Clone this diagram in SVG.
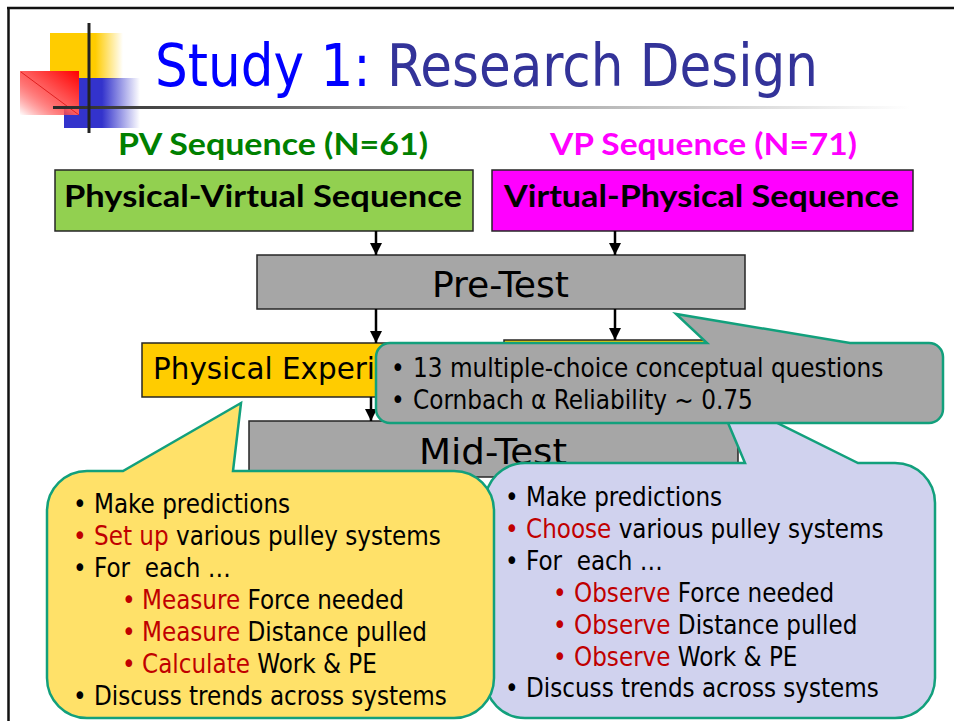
<svg xmlns="http://www.w3.org/2000/svg" width="954" height="721" viewBox="0 0 954 721">
<defs>
<style>
.body{font-family:"DejaVu Sans Condensed","Liberation Sans",sans-serif;font-stretch:condensed;fill:#000;white-space:pre}
.head{font-family:"Lato","Liberation Sans",sans-serif;font-weight:bold}
.box{stroke:#262626;stroke-width:1.5}
.gray{fill:#A6A6A6}
.call{stroke:#12A07C;stroke-width:2.5;stroke-linejoin:miter}
.red{fill:#C00000}
.conn line{stroke:#000;stroke-width:2.5}
</style>
<marker id="ah" viewBox="0 0 10 10" refX="10" refY="5" markerWidth="12" markerHeight="12" markerUnits="userSpaceOnUse" orient="auto">
<path d="M0,0 L10,5 L0,10 z" fill="#000"/>
</marker>
<linearGradient id="gy" x1="0" y1="0" x2="1" y2="0">
<stop offset="0.62" stop-color="#FFCC00"/>
<stop offset="1" stop-color="#FFCC00" stop-opacity="0"/>
</linearGradient>
<linearGradient id="gb" x1="0" y1="0" x2="1" y2="0">
<stop offset="0.5" stop-color="#3333CC"/>
<stop offset="1" stop-color="#3333CC" stop-opacity="0"/>
</linearGradient>
<linearGradient id="gr" x1="1" y1="0" x2="0" y2="1">
<stop offset="0" stop-color="#FF0000"/>
<stop offset="0.5" stop-color="#FF6060"/>
<stop offset="1" stop-color="#FF0000" stop-opacity="0"/>
</linearGradient>
<linearGradient id="gl" x1="53" y1="0" x2="910" y2="0" gradientUnits="userSpaceOnUse">
<stop offset="0" stop-color="#2a2a2a"/>
<stop offset="0.4" stop-color="#8a8a8a"/>
<stop offset="1" stop-color="#ffffff"/>
</linearGradient>
</defs>
<rect width="954" height="721" fill="#fff"/>
<g id="frame" stroke="#111" stroke-width="2.5" fill="none">
<line x1="7" y1="8" x2="954" y2="8"/>
<line x1="8.5" y1="7" x2="8.5" y2="721"/>
</g>
<g id="logo">
<rect x="50" y="33" width="73" height="46" fill="url(#gy)"/>
<rect x="64" y="78" width="76" height="50" fill="url(#gb)"/>
<rect x="20" y="71" width="59" height="44" fill="url(#gr)"/>
<line x1="21" y1="72" x2="79" y2="115" stroke="#E02020" stroke-width="1"/>
<line x1="53" y1="107.5" x2="910" y2="107.5" stroke="url(#gl)" stroke-width="3"/>
<line x1="89" y1="23" x2="89" y2="133" stroke="#222" stroke-width="3"/>
</g>
<text id="title" x="155" y="86" class="body" style="font-size:59px" textLength="663" lengthAdjust="spacingAndGlyphs"><tspan fill="#0000FF">Study 1: </tspan><tspan fill="#333399">Research Design</tspan></text>
<text id="pv-label" x="118" y="155" class="head" style="font-size:30px" fill="#008000" textLength="310" lengthAdjust="spacingAndGlyphs">PV Sequence (N=61)</text>
<text id="vp-label" x="550" y="155" class="head" style="font-size:30px" fill="#FF00FF" textLength="307" lengthAdjust="spacingAndGlyphs">VP Sequence (N=71)</text>
<g id="pv-seq">
<rect x="55" y="170" width="418" height="61" fill="#92D050" class="box"/>
<text x="64" y="207" class="head" style="font-size:30px" textLength="398" lengthAdjust="spacingAndGlyphs">Physical-Virtual Sequence</text>
</g>
<g id="vp-seq">
<rect x="492" y="170" width="421" height="61" fill="#FF00FF" class="box"/>
<text x="504" y="207" class="head" style="font-size:30px" textLength="395" lengthAdjust="spacingAndGlyphs">Virtual-Physical Sequence</text>
</g>
<g id="pre-test">
<rect x="257" y="255" width="488" height="54" class="box gray"/>
<text x="432" y="297" class="body" style="font-size:36px" textLength="137" lengthAdjust="spacingAndGlyphs">Pre-Test</text>
</g>
<g id="physical-exp">
<rect x="142" y="343" width="350" height="54" fill="#FFCC00" class="box"/>
<text x="153" y="379" class="body" style="font-size:31px" textLength="222" lengthAdjust="spacingAndGlyphs">Physical Experi</text>
</g>
<g id="virtual-exp">
<rect x="504" y="340" width="290" height="57" fill="#FFCC00" class="box"/>
</g>
<g id="mid-test">
<rect x="249" y="421" width="489" height="56" class="box gray"/>
<text x="419" y="464" class="body" style="font-size:36px" textLength="148" lengthAdjust="spacingAndGlyphs">Mid-Test</text>
</g>
<g id="connectors" class="conn">
<line x1="376" y1="231" x2="376" y2="255" marker-end="url(#ah)"/>
<line x1="615" y1="231" x2="615" y2="255" marker-end="url(#ah)"/>
<line x1="376" y1="309" x2="376" y2="343" marker-end="url(#ah)"/>
<line x1="615" y1="309" x2="615" y2="340" marker-end="url(#ah)"/>
<line x1="371" y1="397" x2="371" y2="421" marker-end="url(#ah)"/>
</g>
<g id="vp-callout">
<path class="call" fill="#D0D2EE" d="M525,463 L745,463 L715,392 L858,463 L895,463 A40,40 0 0 1 935,503 L935,678 A40,40 0 0 1 895,718 L525,718 A40,40 0 0 1 485,678 L485,503 A40,40 0 0 1 525,463 Z"/>
<text class="body" style="font-size:25.7px">
<tspan x="505" y="506">•</tspan><tspan x="526" y="506">Make predictions</tspan>
<tspan x="505" y="538" class="red">•</tspan><tspan x="526" y="538" class="red">Choose</tspan><tspan> various pulley systems</tspan>
<tspan x="505" y="570">•</tspan><tspan x="526" y="570">For  each …</tspan>
<tspan x="553" y="602" class="red">•</tspan><tspan x="574" y="602" class="red">Observe</tspan><tspan> Force needed</tspan>
<tspan x="553" y="634" class="red">•</tspan><tspan x="574" y="634" class="red">Observe</tspan><tspan> Distance pulled</tspan>
<tspan x="553" y="666" class="red">•</tspan><tspan x="574" y="666" class="red">Observe</tspan><tspan> Work &amp; PE</tspan>
<tspan x="505" y="697">•</tspan><tspan x="526" y="697">Discuss trends across systems</tspan>
</text>
</g>
<g id="pv-callout">
<path class="call" fill="#FFE169" d="M87,471 L123,471 L241,403 L233,471 L454,471 A40,40 0 0 1 494,511 L494,678 A40,40 0 0 1 454,718 L87,718 A40,40 0 0 1 47,678 L47,511 A40,40 0 0 1 87,471 Z"/>
<text class="body" style="font-size:25.7px">
<tspan x="73" y="513">•</tspan><tspan x="94" y="513">Make predictions</tspan>
<tspan x="73" y="545" class="red">•</tspan><tspan x="94" y="545" class="red">Set up</tspan><tspan> various pulley systems</tspan>
<tspan x="73" y="577">•</tspan><tspan x="94" y="577">For  each …</tspan>
<tspan x="122" y="609" class="red">•</tspan><tspan x="142" y="609" class="red">Measure</tspan><tspan> Force needed</tspan>
<tspan x="122" y="641" class="red">•</tspan><tspan x="142" y="641" class="red">Measure</tspan><tspan> Distance pulled</tspan>
<tspan x="122" y="673" class="red">•</tspan><tspan x="142" y="673" class="red">Calculate</tspan><tspan> Work &amp; PE</tspan>
<tspan x="73" y="705">•</tspan><tspan x="94" y="705">Discuss trends across systems</tspan>
</text>
</g>
<g id="pretest-callout">
<path class="call gray" d="M390,343 L707,343 L676,314 L850,343 L929,343 A14,14 0 0 1 943,357 L943,409 A14,14 0 0 1 929,423 L390,423 A14,14 0 0 1 376,409 L376,357 A14,14 0 0 1 390,343 Z"/>
<text class="body" style="font-size:25.8px">
<tspan x="391" y="377">•</tspan><tspan x="413" y="377">13 multiple-choice conceptual questions</tspan>
<tspan x="391" y="409">•</tspan><tspan x="413" y="409">Cornbach α Reliability ~ 0.75</tspan>
</text>
</g>
</svg>
